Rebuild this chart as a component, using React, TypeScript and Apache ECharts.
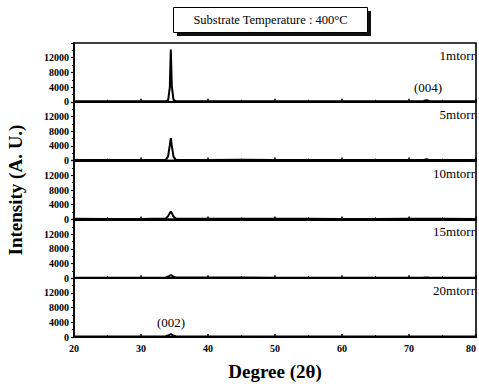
import React, { useEffect, useRef } from "react";
import * as echarts from "echarts";

const degrees = [20, 25, 30, 33.7, 34.05, 34.3, 34.45, 34.6, 34.85, 35.2, 40, 45, 50, 55, 60, 65, 70, 72.2, 72.6, 73.0, 75, 80];
const series1 = [150, 120, 130, 180, 400, 4000, 14200, 4200, 500, 180, 150, 160, 140, 150, 140, 130, 150, 200, 450, 200, 150, 140];
const series5 = [150, 130, 140, 200, 1200, 4200, 6100, 4000, 1100, 220, 160, 260, 150, 150, 140, 130, 150, 180, 350, 180, 150, 140];
const series10 = [150, 130, 140, 250, 900, 1700, 2100, 1700, 800, 250, 160, 170, 150, 150, 140, 130, 150, 160, 200, 160, 150, 140];
const series15 = [150, 130, 140, 200, 450, 700, 850, 700, 400, 200, 160, 160, 150, 150, 140, 130, 150, 160, 180, 160, 150, 140];
const series20 = [150, 130, 140, 200, 400, 650, 750, 650, 350, 200, 160, 160, 150, 150, 140, 130, 150, 160, 170, 160, 150, 140];
const seriesNames = ["1mtorr", "5mtorr", "10mtorr", "15mtorr", "20mtorr"];
const allSeries = [series1, series5, series10, series15, series20];
const xTicks = [20, 30, 40, 50, 60, 70, 80];
const yMax = 16000;
const yInterval = 4000;

const FONT = "Liberation Serif";

export default function App() {
  const ref = useRef<HTMLDivElement>(null);
  useEffect(() => {
    if (!ref.current) return;
    const chart = echarts.init(ref.current, null, { renderer: "svg" });
    const top0 = 43;
    const panelH = 58.8;
    const left = 74;
    const right = 3;
    const grids: any[] = [];
    const xAxes: any[] = [];
    const yAxes: any[] = [];
    const series: any[] = [];
    const graphics: any[] = [];
    const txt = (text: string, size: number, bold = false, extra: any = {}) => ({
      text,
      fontFamily: FONT,
      fontSize: size,
      fontWeight: bold ? "bold" : "normal",
      fill: "#000",
      ...extra,
    });
    allSeries.forEach((vals, i) => {
      const last = i === allSeries.length - 1;
      grids.push({
        left,
        right,
        top: top0 + i * panelH,
        height: panelH,
        show: true,
        borderColor: "#000",
        borderWidth: 1.6,
        backgroundColor: "transparent",
        outerBoundsMode: "none",
        containLabel: false,
      });
      xAxes.push({
        type: "value",
        gridIndex: i,
        min: 20,
        max: 80,
        interval: 10,
        axisLine: { show: true, lineStyle: { color: "#000", width: 2 } },
        axisTick: { show: true, inside: true, length: 3, lineStyle: { color: "#000", width: 1.5 } },
        minorTick: { show: true, splitNumber: 2, length: 2, lineStyle: { color: "#000" } },
        splitLine: { show: false },
        axisLabel: last
          ? {
              show: true,
              fontFamily: FONT,
              fontSize: 10,
              fontWeight: "bold",
              color: "#000",
              margin: 6,
              alignMaxLabel: "right",
              formatter: (v: number) => (xTicks.includes(v) ? String(v) : ""),
            }
          : { show: false },
      });
      yAxes.push({
        type: "value",
        gridIndex: i,
        min: 0,
        max: yMax,
        interval: yInterval,
        axisLine: { show: true, lineStyle: { color: "#000", width: 1.6 } },
        axisTick: { show: true, inside: false, length: 3, lineStyle: { color: "#000", width: 1.2 } },
        minorTick: { show: true, splitNumber: 2, length: 2, lineStyle: { color: "#000" } },
        splitLine: { show: false },
        axisLabel: {
          show: true,
          fontFamily: FONT,
          fontSize: 10,
          fontWeight: "bold",
          color: "#000",
          margin: 5,
          showMaxLabel: false,
          formatter: (v: number) => (v >= yMax ? "" : String(v)),
        },
      });
      series.push({
        type: "line",
        name: seriesNames[i],
        xAxisIndex: i,
        yAxisIndex: i,
        data: degrees.map((d, k) => [d, vals[k]]),
        showSymbol: false,
        lineStyle: { color: "#000", width: 2 },
      });
      graphics.push({
        type: "text",
        right: 4,
        top: top0 + i * panelH + 6,
        style: txt(seriesNames[i], 13),
      });
    });

    graphics.push(
      { type: "rect", shape: { x: 177, y: 11, width: 194, height: 25 }, style: { fill: "#111" } },
      { type: "rect", shape: { x: 173.5, y: 7.5, width: 194, height: 25 }, style: { fill: "#fff", stroke: "#000", lineWidth: 1 } },
      { type: "text", x: 270.5, y: 20, style: txt("Substrate Temperature : 400°C", 12.5, false, { align: "center", verticalAlign: "middle" }) },
      { type: "text", x: 428, y: 87, style: txt("(004)", 13, false, { align: "center", verticalAlign: "middle" }) },
      { type: "text", x: 171, y: 322, style: txt("(002)", 13, false, { align: "center", verticalAlign: "middle" }) },
      { type: "text", x: 275, y: 371, style: txt("Degree (2θ)", 19, true, { align: "center", verticalAlign: "middle" }) },
      {
        type: "text",
        x: 15,
        y: 190,
        rotation: Math.PI / 2,
        style: txt("Intensity (A. U.)", 19, true, { align: "center", verticalAlign: "middle" }),
      }
    );

    chart.setOption({
      animation: false,
      backgroundColor: "#fff",
      grid: grids,
      xAxis: xAxes,
      yAxis: yAxes,
      series,
      graphic: graphics,
    });
    return () => chart.dispose();
  }, []);
  return <div ref={ref} style={{ width: 479, height: 384, position: "absolute", left: 0, top: 0 }} />;
}
